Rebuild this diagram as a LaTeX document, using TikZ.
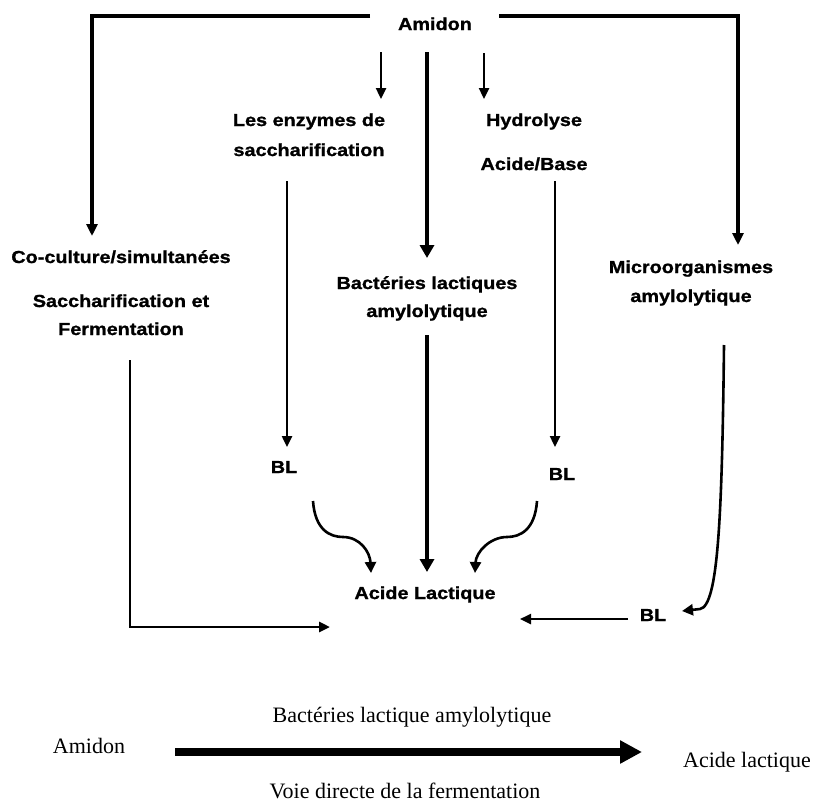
\documentclass[tikz,border=0pt]{standalone}
\usepackage{fontspec}
\setmainfont{Liberation Serif}
\newfontfamily\bsf{Liberation Sans}[FakeStretch=1.14,FakeBold=1.2]
\usetikzlibrary{arrows.meta}
\begin{document}
\begin{tikzpicture}[x=1pt,y=-1pt,
  lbl/.style={anchor=base,inner sep=0pt,font=\bsf\bfseries\fontsize{17.4}{20}\selectfont},
  plain/.style={anchor=base,inner sep=0pt,font=\fontsize{22}{26}\selectfont},
  frame/.style={line width=3.2pt,-{Triangle[length=12pt,width=11pt]}},
  arr/.style={line width=2.4pt,-{Triangle[length=11pt,width=10pt]}},
  thick arr/.style={line width=4.3pt,-{Triangle[length=13pt,width=14pt]}},
  curl/.style={line width=2.6pt,-{Triangle[length=11pt,width=11pt]}},
  big arr/.style={line width=8pt,-{Triangle[length=22pt,width=22pt]}}]
\useasboundingbox (0,0) rectangle (813,803);
% texts
\node[lbl] (amidon) at (435,30) {Amidon};
\node[lbl] (enz1) at (309,126) {Les enzymes de};
\node[lbl] (enz2) at (309,156) {saccharification};
\node[lbl] (hyd1) at (534,126) {Hydrolyse};
\node[lbl] (hyd2) at (534,170) {Acide/Base};
\node[lbl] (co1) at (121,263) {Co-culture/simultanées};
\node[lbl] (co2) at (121,307) {Saccharification et};
\node[lbl] (co3) at (121,335) {Fermentation};
\node[lbl] (bla1) at (427,289) {Bactéries lactiques};
\node[lbl] (bla2) at (427,317) {amylolytique};
\node[lbl] (mic1) at (691,273) {Microorganismes};
\node[lbl] (mic2) at (691,302) {amylolytique};
\node[lbl] (bl1) at (284,473) {BL};
\node[lbl] (bl2) at (562,480) {BL};
\node[lbl] (bl3) at (653,621) {BL};
\node[lbl] (acl) at (425,599) {Acide Lactique};
% bottom
\node[plain] (bA) at (89,753) {Amidon};
\node[plain] (bAL) at (747,767) {Acide lactique};
\node[plain] (bB) at (412,722) {Bactéries lactique amylolytique};
\node[plain] (bV) at (405,798) {Voie directe de la fermentation};
% coordinates
\coordinate (lfs) at (370,16);
\coordinate (lft) at (92,236);
\coordinate (rfs) at (499,16);
\coordinate (rft) at (738,245);
\coordinate (sa1) at (381,52);
\coordinate (sa1t) at (381,99);
\coordinate (sa2) at (484,53);
\coordinate (sa2t) at (484,99);
\coordinate (m1) at (427,52);
\coordinate (m1t) at (427,258);
\coordinate (m2) at (427,335);
\coordinate (m2t) at (427,572);
\coordinate (e1) at (287,181);
\coordinate (e1t) at (287,447);
\coordinate (h1) at (555,181);
\coordinate (h1t) at (555,447);
\coordinate (cs) at (130,360);
\coordinate (ct) at (330,627);
\coordinate (b3s) at (628,619);
\coordinate (b3t) at (520,619);
\coordinate (ms) at (724,345);
\coordinate (mt) at (682,611);
\coordinate (cl1) at (313,501);
\coordinate (cl1t) at (371,573);
\coordinate (cr1) at (537,501);
\coordinate (cr1t) at (475,573);
\coordinate (ba) at (175,752);
\coordinate (bat) at (642,752);
% connectors
\draw[frame] (lfs) -| (lft);
\draw[frame] (rfs) -| (rft);
\draw[arr] (sa1) -- (sa1t);
\draw[arr] (sa2) -- (sa2t);
\draw[thick arr] (m1) -- (m1t);
\draw[thick arr] (m2) -- (m2t);
\draw[arr] (e1) -- (e1t);
\draw[arr] (h1) -- (h1t);
\draw[line width=2.8pt,-{Triangle[length=11pt,width=10pt]}] (cs) |- (ct);
\draw[arr] (b3s) -- (b3t);
\draw[curl] (ms) .. controls (722,520) and (718,606) .. (700,609) -- (mt);
\draw[curl] (cl1) .. controls (315,530) and (330,537) .. (343,537) .. controls (360,537) and (370,552) .. (cl1t);
\draw[curl] (cr1) .. controls (535,530) and (520,537) .. (507,537) .. controls (490,537) and (476,552) .. (cr1t);
\draw[big arr] (ba) -- (bat);
\end{tikzpicture}
\end{document}
